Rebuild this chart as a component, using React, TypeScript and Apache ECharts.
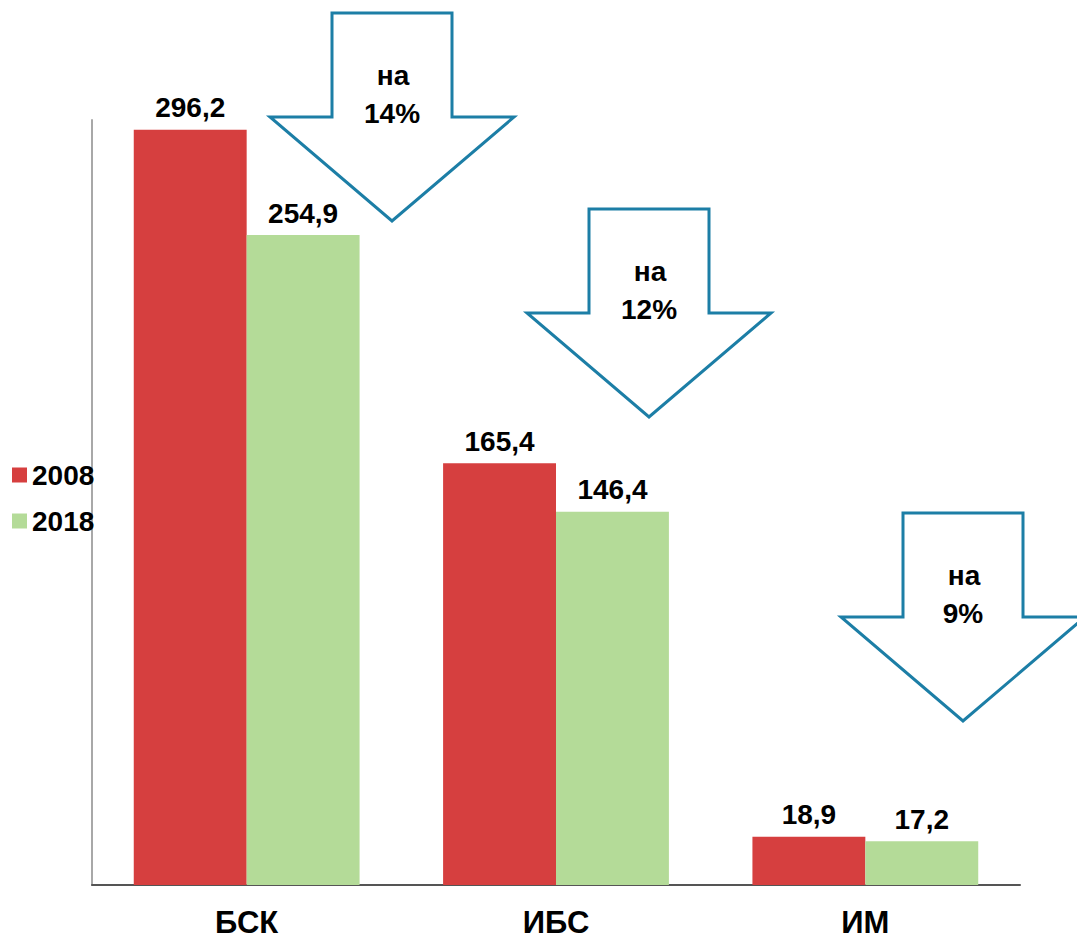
import React, { useEffect, useRef } from "react";
import * as echarts from "echarts";

// Categories and values per year
const categories = ["БСК", "ИБС", "ИМ"];
const years = ["2008", "2018"];
const values2008 = [296.2, 165.4, 18.9];
const values2018 = [254.9, 146.4, 17.2];
// Decrease captions shown inside the arrows
const decreaseLabels = ["14%", "12%", "9%"];

const RED = "#d63f3f";
const GREEN = "#b4db98";
const ARROW = "#1c7ea6";
const FONT = "'Liberation Sans', Arial, sans-serif";

// Arrow anchor points (centre x, top y) for each annotation
const arrowAnchors = [
  [392, 13],
  [649, 209],
  [963, 513],
];

function arrowGraphic(cx: number, ty: number, pct: string) {
  const pts = [
    [cx - 60, ty],
    [cx + 60, ty],
    [cx + 60, ty + 104],
    [cx + 122, ty + 104],
    [cx, ty + 208],
    [cx - 122, ty + 104],
    [cx - 60, ty + 104],
  ];
  return {
    type: "group",
    children: [
      {
        type: "polygon",
        shape: { points: pts },
        style: { fill: "#ffffff", stroke: ARROW, lineWidth: 3 },
      },
      {
        type: "text",
        x: cx + 1,
        y: ty + 62,
        style: {
          text: "на",
          font: `bold 28px ${FONT}`,
          fill: "#000",
          align: "center",
          verticalAlign: "middle",
        },
      },
      {
        type: "text",
        x: cx,
        y: ty + 100,
        style: {
          text: pct,
          font: `bold 28px ${FONT}`,
          fill: "#000",
          align: "center",
          verticalAlign: "middle",
        },
      },
    ],
  };
}

const fmt = (v: number) => v.toFixed(1).replace(".", ",");

export default function App() {
  const ref = useRef<HTMLDivElement>(null);

  useEffect(() => {
    if (!ref.current) return;
    const chart = echarts.init(ref.current, null, { renderer: "svg" });
    const labelStyle = {
      show: true,
      position: "top" as const,
      distance: 8,
      fontSize: 28,
      fontWeight: "bold" as const,
      fontFamily: FONT,
      color: "#000",
      formatter: (p: any) => fmt(p.value),
    };
    chart.setOption({
      animation: false,
      backgroundColor: "#ffffff",
      textStyle: { fontFamily: FONT },
      grid: { left: 92, right: 57, top: 120, bottom: 56, containLabel: false },
      legend: {
        orient: "vertical",
        left: 12,
        top: 461,
        padding: 0,
        itemWidth: 15,
        itemHeight: 15,
        itemGap: 18,
        icon: "rect",
        data: years,
        textStyle: {
          fontSize: 28,
          fontWeight: "bold",
          color: "#000",
          fontFamily: FONT,
        },
      },
      xAxis: {
        type: "category",
        data: categories,
        axisLine: { show: true, lineStyle: { color: "#555", width: 2 } },
        axisTick: { show: false },
        axisLabel: {
          fontSize: 31,
          fontWeight: "bold",
          color: "#000",
          fontFamily: FONT,
          margin: 22,
        },
      },
      yAxis: {
        type: "value",
        min: 0,
        max: 300,
        axisLine: { show: true, lineStyle: { color: "#a8a8a8", width: 2 } },
        axisTick: { show: false },
        axisLabel: { show: false },
        splitLine: { show: false },
      },
      series: [
        {
          name: years[0],
          type: "bar",
          data: values2008,
          barGap: "0%",
          barCategoryGap: "27%",
          itemStyle: { color: RED },
          label: labelStyle,
        },
        {
          name: years[1],
          type: "bar",
          data: values2018,
          barGap: "0%",
          barCategoryGap: "27%",
          itemStyle: { color: GREEN },
          label: labelStyle,
        },
      ],
      graphic: arrowAnchors.map(([cx, ty], i) =>
        arrowGraphic(cx, ty, decreaseLabels[i])
      ),
    });
    return () => chart.dispose();
  }, []);

  return (
    <div
      ref={ref}
      style={{
        position: "fixed",
        left: 0,
        top: 0,
        width: 1077,
        height: 941,
        background: "#fff",
      }}
    />
  );
}
